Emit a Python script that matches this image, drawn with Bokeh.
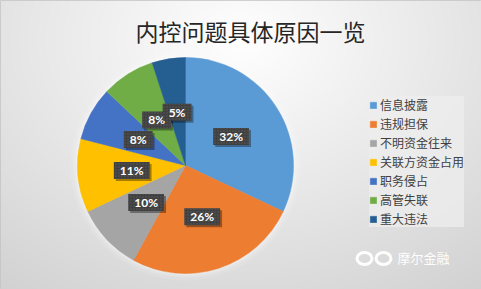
import numpy as np
from math import pi
from bokeh.plotting import figure
from bokeh.models import ColumnDataSource, Range1d, Legend, LegendItem
from bokeh.core.properties import value
from bokeh.embed import file_html
from bokeh.resources import INLINE

# ---- data ----
title_text = "内控问题具体原因一览"
causes = ["信息披露", "违规担保", "不明资金往来", "关联方资金占用", "职务侵占", "高管失联", "重大违法"]
shares = [32, 26, 10, 11, 8, 8, 5]
colors = ["#5B9BD5", "#ED7D31", "#A5A5A5", "#FFC000", "#4472C4", "#70AD47", "#255E91"]
watermark = "摩尔金融"

W, H = 481, 289
CX, CY, R = 185, H - 165, 108

p = figure(width=W, height=H, x_range=Range1d(0, W), y_range=Range1d(0, H),
           min_border=0, toolbar_location=None, output_backend="svg",
           x_axis_type=None, y_axis_type=None)
p.grid.visible = False
p.outline_line_color = "#c3c3c3"
p.outline_line_width = 1
p.background_fill_color = "#dedede"
p.border_fill_color = "#dedede"

# radial gradient background
yy, xx = np.mgrid[0:H, 0:W]
sy = H - yy  # screen y (row 0 = bottom)
d = np.sqrt(((xx - 240) / 240.0) ** 2 + ((sy - 40) / 185.0) ** 2)
c = np.clip(255 - 27 * d, 200, 255).astype(np.uint32)
img = (255 << 24) | (c << 16) | (c << 8) | c
p.image_rgba(image=[img.astype(np.uint32)], x=0, y=0, dw=W, dh=H)

# pie
total = float(sum(shares))
fr = np.array(shares) / total
c1 = np.cumsum(fr)
c0 = c1 - fr
start = pi / 2 - 2 * pi * c0
end = pi / 2 - 2 * pi * c1
mid = (start + end) / 2
src = ColumnDataSource(dict(
    cause=causes, share=shares, color=colors,
    start=start, end=end,
    lx=CX + 0.5 * R * np.cos(mid), ly=CY + 0.5 * R * np.sin(mid),
    lab=[f"{v}%" for v in shares],
))

# soft halo around pie
for k, a in [(7, 0.10), (4, 0.15), (2, 0.2)]:
    p.circle(x=[CX], y=[CY], radius=R + k, fill_color="white", fill_alpha=a, line_color=None)

wr = p.wedge(x=CX, y=CY, radius=R, start_angle="start", end_angle="end", direction="clock",
             fill_color="color", line_color="color", line_width=0.5, source=src)

# data labels (shadow + box)
p.text(x="lx", y="ly", text="lab", source=src, text_alpha=0,
       text_font=value("Lato"), text_font_style="bold", text_font_size="12px",
       text_align="center", text_baseline="middle", x_offset=2, y_offset=2,
       background_fill_color="black", background_fill_alpha=0.35,
       padding=dict(left=6, right=6, top=1, bottom=1))
p.text(x="lx", y="ly", text="lab", source=src, text_color="white",
       text_font=value("Lato"), text_font_style="bold", text_font_size="12px",
       text_align="center", text_baseline="middle",
       background_fill_color="#404040",
       background_hatch_pattern="dot", background_hatch_color="#5c5c5c",
       background_hatch_scale=3, background_hatch_weight=0.6,
       padding=dict(left=6, right=6, top=1, bottom=1))

# title
p.text(x=[250], y=[H - 30], text=[title_text], text_font=value("Noto Sans CJK SC"),
       text_font_size="23px", text_color="#262626", text_align="center",
       text_baseline="middle")

# watermark
p.ellipse(x=[364, 383], y=[H - 258, H - 258], width=15, height=12, fill_color=None,
          line_color="white", line_width=3, line_alpha=0.95)
p.text(x=[397], y=[H - 257], text=[watermark], text_font=value("Noto Sans CJK SC"),
       text_font_size="13px", text_color="white", text_alpha=0.97,
       text_align="left", text_baseline="middle")

# legend
items = [LegendItem(label=cause, renderers=[wr], index=i) for i, cause in enumerate(causes)]
legend = Legend(items=items, location=(369, H - 227), orientation="vertical",
                background_fill_color="#eeeeee", background_fill_alpha=0.75,
                border_line_color=None, padding=4, margin=0, spacing=2,
                glyph_width=8, glyph_height=8, label_height=16, label_standoff=3,
                label_text_font="Noto Sans CJK SC", label_text_font_size="12px",
                label_text_color="#404040")
p.add_layout(legend, "center")

open("out.html", "w").write(file_html(p, INLINE))
